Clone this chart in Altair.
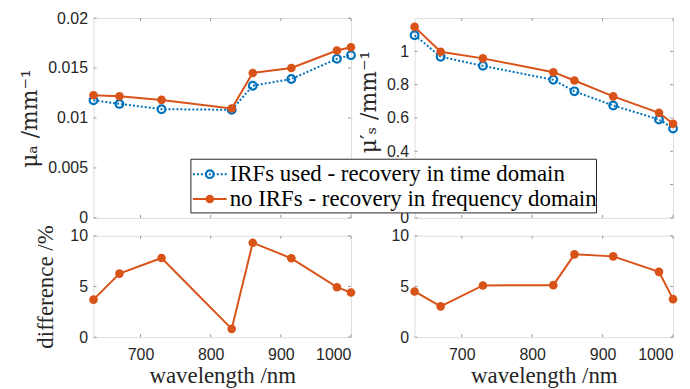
import altair as alt
import pandas as pd

# ---------------- data ----------------
wavelength = [633, 670, 730, 830, 860, 915, 980, 1000]
mua_irf = [0.01177, 0.01141, 0.01088, 0.01082, 0.01323, 0.01390, 0.01592, 0.01629]
mua_noirf = [0.01227, 0.01217, 0.01181, 0.01095, 0.01450, 0.01500, 0.01675, 0.01708]
mus_irf = [1.097, 0.968, 0.913, 0.829, 0.760, 0.675, 0.591, 0.537]
mus_noirf = [1.147, 0.998, 0.958, 0.875, 0.825, 0.730, 0.631, 0.565]
diff_mua = [3.70, 6.27, 7.81, 0.82, 9.31, 7.78, 4.93, 4.40]
diff_mus = [4.51, 3.04, 5.10, 5.13, 8.17, 7.97, 6.44, 3.75]

series_labels = ["IRFs used - recovery in time domain",
                 "no IRFs - recovery in frequency domain"]
x_ticks = [700, 800, 900, 1000]
mua_ticks = [0, 0.005, 0.01, 0.015, 0.02]
mus_ticks = [0, 0.2, 0.4, 0.6, 0.8, 1.0]
diff_ticks = [0, 5, 10]

BLUE = "#0072BD"
ORANGE = "#D95319"
AX = "#262626"
BOX = "#9a9a9a"
SERIF = "Liberation Serif"
GSERIF = "DejaVu Serif"
SANS = "Liberation Sans"

W_L, W_R = 259, 260
H_T, H_B = 201, 102
X_DOMAIN = [wavelength[0], wavelength[-1]]

xscale = alt.Scale(domain=X_DOMAIN, nice=False, zero=False)


def xaxis(show):
    if show:
        return alt.Axis(values=x_ticks, ticks=False, domain=False, grid=False,
                        format="d", labelPadding=9, labelFontSize=16, labelFont=SANS,
                        labelColor=AX, title="wavelength /nm", titleFont=SERIF,
                        titleFontSize=23, titleFontWeight="normal",
                        titleColor=AX, titlePadding=3)
    return alt.Axis(values=x_ticks, ticks=False, domain=False, grid=False,
                    labels=False, title=None)


def yaxis(ticks, title, title_pad, tfont, fmt, title_y=None):
    kw = {}
    if title_y is not None:
        kw["titleY"] = title_y
    return alt.Axis(values=ticks, ticks=False, domain=False, grid=False,
                    labelPadding=6, labelFontSize=16, labelFont=SANS,
                    labelColor=AX, format=fmt, title=title, titleFont=tfont,
                    titleFontSize=22 if tfont == GSERIF else 23,
                    titleFontWeight="normal", titleColor=AX,
                    titlePadding=title_pad, labelFlush=False, **kw)


def inner_ticks(width, height, yticks, ydomain):
    xt = pd.DataFrame({"x": x_ticks})
    yt = pd.DataFrame({"y": yticks})
    ys = alt.Scale(domain=ydomain, nice=False)
    base_x = alt.Chart(xt).mark_rule(color=BOX, strokeWidth=1)
    base_y = alt.Chart(yt).mark_rule(color=BOX, strokeWidth=1)
    return [
        base_x.encode(x=alt.X("x:Q", scale=xscale), y=alt.value(height), y2=alt.value(height - 3)),
        base_x.encode(x=alt.X("x:Q", scale=xscale), y=alt.value(0), y2=alt.value(3)),
        base_y.encode(y=alt.Y("y:Q", scale=ys), x=alt.value(0), x2=alt.value(3)),
        base_y.encode(y=alt.Y("y:Q", scale=ys), x=alt.value(width), x2=alt.value(width - 3)),
    ]


def top_panel(irf, noirf, ydomain, yticks, ytitle, width, title_pad, fmt,
              title_y=None, extra=None):
    df = pd.DataFrame({"wl": wavelength, "irf": irf, "noirf": noirf})
    ys = alt.Scale(domain=ydomain, nice=False)
    base = alt.Chart(df)
    blue_line = base.mark_line(color=BLUE, strokeWidth=2, strokeDash=[2, 2]).encode(
        x=alt.X("wl:Q", scale=xscale, axis=xaxis(False)),
        y=alt.Y("irf:Q", scale=ys,
                axis=yaxis(yticks, ytitle, title_pad, GSERIF, fmt, title_y)))
    blue_pts = base.mark_point(shape="circle", color=BLUE, filled=False, size=60,
                               strokeWidth=2.2, opacity=1).encode(
        x=alt.X("wl:Q", scale=xscale), y=alt.Y("irf:Q", scale=ys))
    or_line = base.mark_line(color=ORANGE, strokeWidth=2).encode(
        x=alt.X("wl:Q", scale=xscale), y=alt.Y("noirf:Q", scale=ys))
    or_pts = base.mark_circle(color=ORANGE, size=75, opacity=1).encode(
        x=alt.X("wl:Q", scale=xscale), y=alt.Y("noirf:Q", scale=ys))
    layers = inner_ticks(width, H_T, yticks, ydomain) + [blue_line, blue_pts, or_line, or_pts]
    if extra:
        layers += extra
    return alt.layer(*layers).properties(width=width, height=H_T)


def bottom_panel(diff, ytitle, width, title_pad):
    df = pd.DataFrame({"wl": wavelength, "d": diff})
    ys = alt.Scale(domain=[0, 10], nice=False)
    base = alt.Chart(df)
    line = base.mark_line(color=ORANGE, strokeWidth=2).encode(
        x=alt.X("wl:Q", scale=xscale, axis=xaxis(True)),
        y=alt.Y("d:Q", scale=ys, axis=yaxis(diff_ticks, ytitle, title_pad, SERIF, "d")))
    pts = base.mark_circle(color=ORANGE, size=75, opacity=1).encode(
        x=alt.X("wl:Q", scale=xscale), y=alt.Y("d:Q", scale=ys))
    layers = inner_ticks(width, H_B, diff_ticks, [0, 10]) + [line, pts]
    return alt.layer(*layers).properties(width=width, height=H_B)


# ---------------- legend (drawn inside the top-right panel) ----------------
LX0, LX1 = -225, 183
LY0, LY1 = 142, 196
ROW_Y = [157, 182]
SYM_X0, SYM_X1, SYM_C, TXT_X = -223, -189, -206, -186
LEG_FS = 23

leg_df = pd.DataFrame({"label": series_labels})
leg_box = alt.Chart(leg_df.iloc[:1]).mark_rect(fill="white", stroke=AX, strokeWidth=1).encode(
    x=alt.value(LX0), x2=alt.value(LX1), y=alt.value(LY0), y2=alt.value(LY1))
leg_l1 = alt.Chart(leg_df.iloc[:1]).mark_rule(color=BLUE, strokeWidth=2, strokeDash=[2, 2]).encode(
    x=alt.value(SYM_X0), x2=alt.value(SYM_X1), y=alt.value(ROW_Y[0]))
leg_p1 = alt.Chart(leg_df.iloc[:1]).mark_point(shape="circle", color=BLUE, filled=False, size=60,
                                                 strokeWidth=2.2, opacity=1).encode(
    x=alt.value(SYM_C), y=alt.value(ROW_Y[0]))
leg_t1 = alt.Chart(leg_df.iloc[:1]).mark_text(align="left", baseline="middle", font=SERIF,
                                                fontSize=LEG_FS, color="black").encode(
    x=alt.value(TXT_X), y=alt.value(ROW_Y[0]), text="label:N")
leg_l2 = alt.Chart(leg_df.iloc[1:]).mark_rule(color=ORANGE, strokeWidth=2).encode(
    x=alt.value(SYM_X0), x2=alt.value(SYM_X1), y=alt.value(ROW_Y[1]))
leg_p2 = alt.Chart(leg_df.iloc[1:]).mark_circle(color=ORANGE, size=75, opacity=1).encode(
    x=alt.value(SYM_C), y=alt.value(ROW_Y[1]))
leg_t2 = alt.Chart(leg_df.iloc[1:]).mark_text(align="left", baseline="middle", font=SERIF,
                                                fontSize=LEG_FS, color="black").encode(
    x=alt.value(TXT_X), y=alt.value(ROW_Y[1]), text="label:N")
legend_layers = [leg_box, leg_l1, leg_p1, leg_t1, leg_l2, leg_p2, leg_t2]

tl = top_panel(mua_irf, mua_noirf, [0, 0.02], mua_ticks, "μₐ /mm⁻¹", W_L, 6, "~r")
tr = top_panel(mus_irf, mus_noirf, [0, 1.2], mus_ticks, "μ′ₛ /mm⁻¹", W_R, 6, "~r",
               title_y=84, extra=legend_layers)
bl = bottom_panel(diff_mua, "difference /%", W_L, 12)
br = bottom_panel(diff_mus, None, W_R, 6)

chart = alt.concat(tl, tr, bl, br, columns=2,
                   spacing=alt.RowColnumber(row=18, column=64),
                   bounds="flush").properties(
    padding={"left": 10, "top": 0, "right": 0, "bottom": 0}
).configure_view(stroke=BOX, strokeWidth=1).configure(background="white")

chart.save("out.html", embed_options={"renderer": "svg", "actions": False})
